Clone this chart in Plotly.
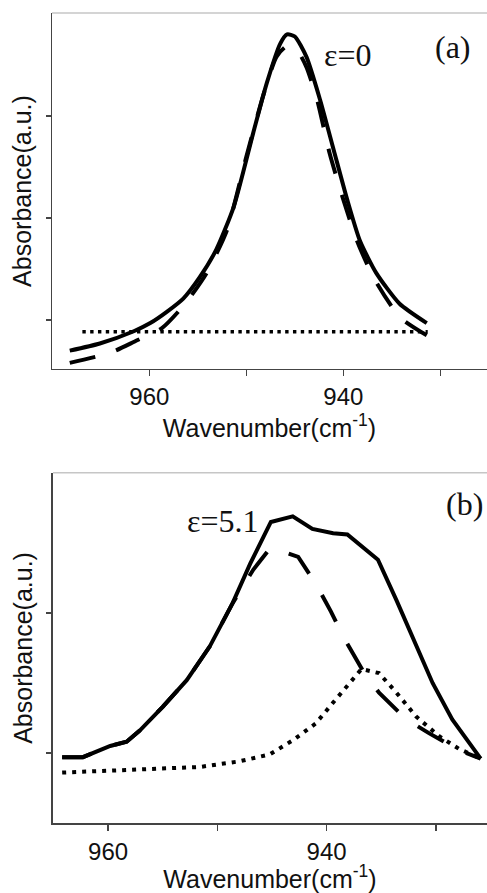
import plotly.graph_objects as go

# ---- panel (a): eps = 0 ----
a_solid_x = [968.2, 965.1, 961.6, 959.9, 958.2, 956.5, 954.8, 953.1, 951.3, 949.3, 947.9, 946.5,
             945.8, 945.0, 943.8, 942.4, 941.0, 939.6, 938.3, 936.6, 934.2, 931.4]
a_solid_y = [-0.30, -0.23, -0.11, -0.03, 0.08, 0.21, 0.42, 0.69, 1.11, 1.83, 2.32, 2.71,
             2.80, 2.78, 2.58, 2.16, 1.67, 1.18, 0.78, 0.46, 0.16, -0.03]
a_dash_x = [968.2, 964.0, 961.5, 958.7, 956.3, 954.1, 952.0, 950.0, 948.2, 946.9, 945.9, 944.8,
            943.8, 942.7, 941.4, 940.0, 938.6, 936.9, 934.2, 931.4]
a_dash_y = [-0.42, -0.32, -0.21, -0.08, 0.16, 0.46, 0.88, 1.60, 2.22, 2.58, 2.68, 2.65,
            2.48, 2.16, 1.63, 1.18, 0.78, 0.42, 0.03, -0.15]
a_dot_x = [966.9, 931.3]
a_dot_y = [-0.115, -0.115]

# ---- panel (b): eps = 5.1 ----
b_solid_x = [964.2, 962.3, 959.8, 958.3, 957.1, 955.0, 952.8, 950.7, 948.6, 947.0, 945.1, 943.1,
             941.3, 939.4, 938.1, 936.7, 935.3, 933.6, 931.8, 930.3, 928.5, 925.9]
b_solid_y = [-0.03, -0.03, 0.05, 0.08, 0.16, 0.33, 0.52, 0.76, 1.07, 1.35, 1.65, 1.69,
             1.60, 1.57, 1.56, 1.47, 1.38, 1.09, 0.76, 0.50, 0.24, -0.04]
b_dash_x = [964.2, 962.3, 959.8, 958.3, 957.1, 955.0, 952.8, 950.7, 948.6, 946.7, 945.1, 942.6,
            941.0, 939.6, 938.4, 936.7, 935.2, 932.7, 930.6, 927.9, 925.9]
b_dash_y = [-0.03, -0.03, 0.05, 0.08, 0.16, 0.33, 0.52, 0.76, 1.07, 1.31, 1.47, 1.40,
            1.21, 1.01, 0.82, 0.59, 0.43, 0.24, 0.14, 0.02, -0.04]
b_dot_x = [964.2, 957.7, 951.6, 948.0, 945.2, 943.1, 941.0, 939.4, 937.9, 936.8, 935.2, 933.6,
           931.8, 929.7, 927.9, 925.9]
b_dot_y = [-0.14, -0.12, -0.10, -0.06, -0.01, 0.09, 0.21, 0.36, 0.50, 0.60, 0.57, 0.43,
           0.26, 0.12, 0.03, -0.04]

x_major_ticks = [960, 940]
x_minor_ticks = [950, 930]
y_ticks_a = [0, 1, 2]
y_ticks_b = [0, 1]

fig = go.Figure()

fig.add_trace(go.Scatter(x=a_solid_x, y=a_solid_y, mode="lines", xaxis="x", yaxis="y",
                         line=dict(color="black", width=4, shape="spline", smoothing=0.6)))
fig.add_trace(go.Scatter(x=a_dash_x, y=a_dash_y, mode="lines", xaxis="x", yaxis="y",
                         line=dict(color="black", width=4, shape="spline", smoothing=0.6, dash="26px,22px")))
fig.add_trace(go.Scatter(x=a_dot_x, y=a_dot_y, mode="lines", xaxis="x", yaxis="y",
                         line=dict(color="black", width=3.4, dash="3.4px,4.4px")))

fig.add_trace(go.Scatter(x=b_solid_x, y=b_solid_y, mode="lines", xaxis="x2", yaxis="y2",
                         line=dict(color="black", width=4)))
fig.add_trace(go.Scatter(x=b_dash_x, y=b_dash_y, mode="lines", xaxis="x2", yaxis="y2",
                         line=dict(color="black", width=4, dash="30px,25px")))
fig.add_trace(go.Scatter(x=b_dot_x, y=b_dot_y, mode="lines", xaxis="x2", yaxis="y2",
                         line=dict(color="black", width=4, dash="4px,6px")))

tick_font = dict(family="Liberation Sans, Arial, sans-serif", size=24, color="#111")
title_font = dict(family="Liberation Sans, Arial, sans-serif", size=25, color="#111")
common_x = dict(tickmode="array", tickvals=x_major_ticks,
                ticks="outside", ticklen=6, tickwidth=1.5, tickcolor="#444",
                minor=dict(tickmode="array", tickvals=x_minor_ticks, ticks="outside",
                           ticklen=6, tickwidth=1.5, tickcolor="#444", showgrid=False),
                showline=True, linecolor="#444", linewidth=1.5, mirror=False,
                showgrid=False, zeroline=False, tickfont=tick_font, fixedrange=True,
                title=dict(text="Wavenumber(cm<sup>-1</sup>)", font=title_font, standoff=0))
common_y = dict(ticks="outside", ticklen=5, tickwidth=1.5, tickcolor="#444",
                showline=True, linecolor="#444", linewidth=1.5, showticklabels=False,
                showgrid=False, zeroline=False, mirror=False, fixedrange=True,
                title=dict(text="Absorbance(a.u.)", font=title_font, standoff=6))

fig.update_layout(
    template="simple_white",
    width=487, height=893, margin=dict(l=0, r=0, t=0, b=0),
    paper_bgcolor="white", plot_bgcolor="white", showlegend=False,
    xaxis=dict(common_x, domain=[0.1068, 1.0], range=[970.03, 925.19], anchor="y"),
    yaxis=dict(common_y, domain=[0.5868, 0.9854], range=[-0.48, 3.01], tickvals=y_ticks_a, anchor="x"),
    xaxis2=dict(common_x, domain=[0.1088, 1.0], range=[965.04, 925.32], anchor="y2"),
    yaxis2=dict(common_y, domain=[0.0781, 0.4707], range=[-0.502, 2.002], tickvals=y_ticks_b, anchor="x2"),
)

# top frame line of each panel (the reference has no right frame line)
for xd, yd in (("x domain", "y domain"), ("x2 domain", "y2 domain")):
    fig.add_shape(type="line", xref=xd, yref=yd, x0=0, x1=1, y0=1, y1=1,
                  line=dict(color="#444", width=1.5))

serif = dict(family="Liberation Serif, Times New Roman, serif", size=32, color="#111")
fig.add_annotation(x=939.6, y=2.60, xref="x", yref="y", text="ε=0", showarrow=False, font=serif)
fig.add_annotation(x=928.7, y=2.68, xref="x", yref="y", text="(a)", showarrow=False, font=serif)
fig.add_annotation(x=949.5, y=1.66, xref="x2", yref="y2", text="ε=5.1", showarrow=False, font=serif)
fig.add_annotation(x=927.4, y=1.78, xref="x2", yref="y2", text="(b)", showarrow=False, font=serif)

fig.write_html("out.html", config={"displayModeBar": False, "staticPlot": True})
